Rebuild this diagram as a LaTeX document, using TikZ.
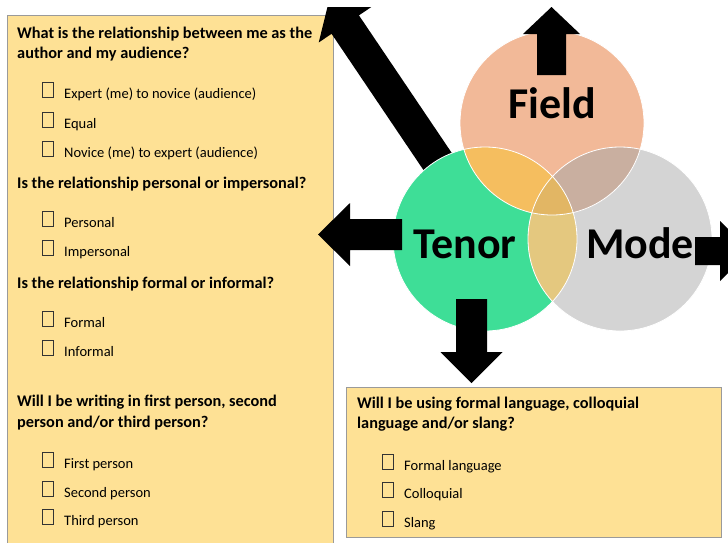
\documentclass[tikz,border=0pt]{standalone}
\usepackage{fontspec}
\setmainfont{Carlito}

\definecolor{panel}{HTML}{FEE195}
\definecolor{panelline}{HTML}{9A9A9A}
\definecolor{chkline}{HTML}{333333}
\definecolor{fieldc}{HTML}{F2B998}
\definecolor{tenorc}{HTML}{3EDE97}
\definecolor{modec}{HTML}{D4D4D4}
\definecolor{ftc}{HTML}{F5BE5F}
\definecolor{fmc}{HTML}{C9AFA0}
\definecolor{tmc}{HTML}{E4C87F}
\definecolor{ftmc}{HTML}{E2B664}

% base, angle, shaft length, shaft half width, head half width, head length
\newcommand\blkarrow[6]{%
  \fill[shift={#1},rotate=#2] (0,-#4) -- (#3,-#4) -- (#3,-#5) -- ({#3+#6},0)
    -- (#3,#5) -- (#3,#4) -- (0,#4) -- cycle;}
\newcommand\chkitem[4]{%
  \node[chk] (#1box) at (#2,#3) {};
  \node[item] (#1) at ({#2+22},#3) {#4};}

\tikzset{
  head/.style={anchor=base west, inner sep=0pt, font=\fontsize{16.3}{18}\selectfont\bfseries},
  item/.style={anchor=base west, inner sep=0pt, font=\fontsize{14.5}{16}\selectfont},
  chk/.style={draw=chkline, line width=0.6pt, anchor=south west, inner sep=0pt,
    minimum width=11pt, minimum height=15pt},
  venn/.style={anchor=base, inner sep=0pt, font=\fontsize{44}{44}\selectfont\bfseries},
  panelbox/.style={fill=panel, draw=panelline, line width=0.8pt},
}

\def\fieldcirc{(552,123) circle (92pt)}
\def\tenorcirc{(485,239) circle (92pt)}
\def\modecirc{(620,239) circle (92pt)}

\begin{document}
\begin{tikzpicture}[x=1pt,y=-1pt]
  \useasboundingbox (0,0) rectangle (728,542);
  \clip (0,0) rectangle (728,542);
  \fill[white] (0,0) rectangle (728,542);

  \draw[panelbox] (7,15) rectangle (333,560);
  \draw[panelbox] (346,387) rectangle (721,537);

  \begin{scope}
    \clip (0,7) rectangle (728,542);
    \blkarrow{(442,168)}{124}{173}{16.5}{32}{29}
  \end{scope}

  \fill[tenorc] \tenorcirc;
  \fill[modec] \modecirc;
  \fill[fieldc] \fieldcirc;
  \begin{scope}
    \clip \fieldcirc;
    \fill[ftc] \tenorcirc;
    \fill[fmc] \modecirc;
  \end{scope}
  \begin{scope}
    \clip \tenorcirc;
    \fill[tmc] \modecirc;
  \end{scope}
  \begin{scope}
    \clip \fieldcirc;
    \clip \tenorcirc;
    \fill[ftmc] \modecirc;
  \end{scope}
  \begin{scope}[white, line width=0.8pt]
    \draw \fieldcirc;
    \draw \tenorcirc;
    \draw \modecirc;
  \end{scope}

  \blkarrow{(551.5,75)}{90}{41}{14.5}{28.5}{27}
  \blkarrow{(402,234.5)}{180}{52}{15.5}{31.5}{32}
  \blkarrow{(471.5,299)}{-90}{53}{15.5}{31}{31}
  \blkarrow{(695,251)}{0}{25}{14}{30}{30}

  \node[venn] (field) at (552,118) {Field};
  \node[venn] (tenor) at (465,258) {Tenor};
  \node[venn] (mode) at (640,258) {Mode};

  \node[head] (q1a) at (17,38) {What is the relationship between me as the};
  \node[head] (q1b) at (17,58) {author and my audience?};
  \chkitem{expert}{42}{98}{Expert (me) to novice (audience)}
  \chkitem{equal}{42}{128}{Equal}
  \chkitem{novice}{42}{157}{Novice (me) to expert (audience)}
  \node[head] (q2) at (17,188) {Is the relationship personal or impersonal?};
  \chkitem{personal}{42}{227}{Personal}
  \chkitem{impersonal}{42}{256}{Impersonal}
  \node[head] (q3) at (17,288) {Is the relationship formal or informal?};
  \chkitem{formal}{42}{327}{Formal}
  \chkitem{informal}{42}{356}{Informal}
  \node[head] (q4a) at (17,406) {Will I be writing in first person, second};
  \node[head] (q4b) at (17,427) {person and/or third person?};
  \chkitem{first}{42}{468}{First person}
  \chkitem{second}{42}{497}{Second person}
  \chkitem{third}{42}{525}{Third person}

  \node[head] (q5a) at (357,408) {Will I be using formal language, colloquial};
  \node[head] (q5b) at (357,428) {language and/or slang?};
  \chkitem{formallang}{382}{470}{Formal language}
  \chkitem{colloquial}{382}{498}{Colloquial}
  \chkitem{slang}{382}{527}{Slang}
\end{tikzpicture}
\end{document}
